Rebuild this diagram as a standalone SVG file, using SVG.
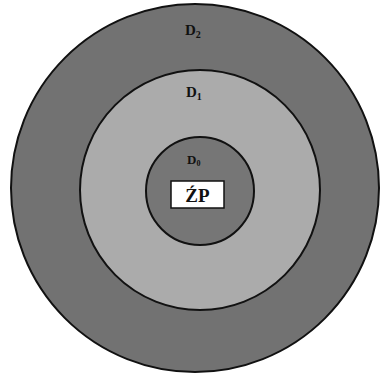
<svg xmlns="http://www.w3.org/2000/svg" width="385" height="376" viewBox="0 0 385 376">
<style>
.ring{stroke:#111;stroke-width:2}
.lbl{font-family:"Liberation Serif",serif;font-weight:bold;fill:#111}
</style>
<rect width="385" height="376" fill="#fff"/>
<g id="D2"><circle class="ring" cx="195" cy="188" r="184" fill="#727272"/><text class="lbl" x="185" y="35" font-size="15">D<tspan font-size="10" dy="3">2</tspan></text></g>
<g id="D1"><circle class="ring" cx="200" cy="190" r="120" fill="#ababab"/><text class="lbl" x="186" y="97" font-size="15">D<tspan font-size="10" dy="3">1</tspan></text></g>
<g id="D0"><circle class="ring" cx="200" cy="191" r="54" fill="#767676"/><text class="lbl" x="187" y="164" font-size="13">D<tspan font-size="8" dy="2">0</tspan></text></g>
<g id="ZP"><rect x="171" y="181" width="53" height="27" fill="#fff" stroke="#111" stroke-width="1.5"/><text class="lbl" x="197.5" y="202" font-size="19" text-anchor="middle">ŹP</text></g>
</svg>
